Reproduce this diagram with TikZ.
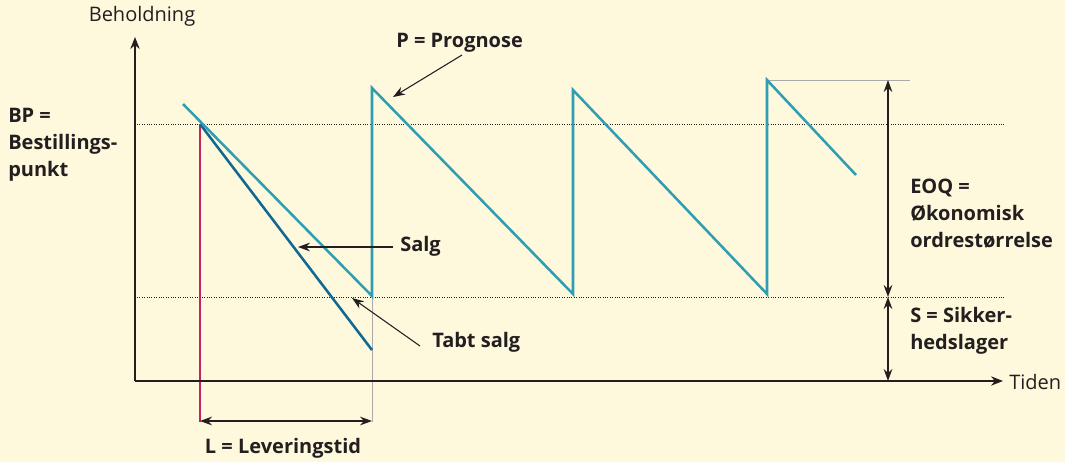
\documentclass[tikz,border=0pt]{standalone}
\usepackage{fontspec}
\setmainfont{Open Sans}
\usetikzlibrary{arrows.meta}
\definecolor{bg}{RGB}{254,248,220}
\definecolor{teal}{RGB}{48,158,178}
\definecolor{dblue}{RGB}{16,104,148}
\definecolor{mag}{RGB}{196,36,96}
\definecolor{ink}{RGB}{35,31,32}
\definecolor{thin}{RGB}{170,170,170}
\tikzset{
  lbl/.style={inner sep=0pt, font=\fontsize{15}{20.25}\selectfont\bfseries, text=ink, align=left},
  plainlbl/.style={inner sep=0pt, font=\fontsize{15}{20.25}\selectfont, text=ink},
  axis/.style={draw=ink, line width=0.9pt, -{Stealth[length=9pt,width=7pt]}},
  pointer/.style={draw=ink, line width=0.8pt, -{Stealth[length=9pt,width=6.5pt]}},
  dim/.style={draw=ink, line width=0.8pt, {Stealth[length=9pt,width=6.5pt]}-{Stealth[length=9pt,width=6.5pt]}},
  level/.style={draw=ink, line width=0.5pt, dash pattern=on 0.6pt off 1.2pt},
  saw/.style={draw=teal, line width=1.9pt, line join=miter},
  guide/.style={draw=thin, line width=0.6pt},
}
\begin{document}
\begin{tikzpicture}[x=0.75pt,y=-0.75pt]
\fill[bg] (0,0) rectangle (1065,462);
\useasboundingbox (0,0) rectangle (1065,462);
% coordinates
\coordinate (O) at (135,381);
\coordinate (ytop) at (135,37);
\coordinate (xend) at (1003,381);
\coordinate (bpL) at (137,124);
\coordinate (bpR) at (1004,124);
\coordinate (ssL) at (137,297);
\coordinate (ssR) at (1004,297);
\coordinate (s0) at (183,104);
\coordinate (b1) at (372,296);
\coordinate (t1) at (372,88);
\coordinate (b2) at (573,294);
\coordinate (t2) at (573,90);
\coordinate (b3) at (767,294);
\coordinate (t3) at (767,80);
\coordinate (e3) at (856,175);
\coordinate (bp) at (200,124);
\coordinate (lost) at (372,350);
\coordinate (magB) at (200,422);
\coordinate (gB) at (372,422);
\coordinate (topR) at (910,80);
\coordinate (eoqT) at (888,80);
\coordinate (eoqM) at (888,297);
\coordinate (eoqB) at (888,381);
\coordinate (Lleft) at (200,421);
\coordinate (Lright) at (372,421);
\coordinate (salgTip) at (298,247);
\coordinate (salgTail) at (393,247);
\coordinate (tabtTip) at (352,298);
\coordinate (tabtTail) at (420,346);
\coordinate (progTip) at (393,97);
\coordinate (progTail) at (462,55);
% levels
\draw[level] (bpL) -- (bpR);
\draw[level] (ssL) -- (ssR);
% guides
\draw[guide] (b1) -- (gB);
\draw[guide] (t3) -- (topR);
% lines
\draw[mag, line width=2.1pt] (bp) -- (magB);
\draw[dblue, line width=1.9pt] (bp) -- (lost);
\draw[saw] (s0) -- (b1) -- (t1) -- (b2) -- (t2) -- (b3) -- (t3) -- (e3);
% axes
\draw[axis] (O) -- (ytop);
\draw[axis] (O) -- (xend);
% dimension arrows
\draw[dim] (Lleft) -- (Lright);
\draw[dim] (eoqT) -- (eoqM);
\draw[dim] (eoqM) -- (eoqB);
% pointers
\draw[pointer] (salgTail) -- (salgTip);
\draw[pointer] (tabtTail) -- (tabtTip);
\draw[pointer] (progTail) -- (progTip);
% labels
\node[plainlbl] (beh) at (142,16) {Beholdning};
\node[plainlbl, anchor=west] (tid) at (1009,382) {Tiden};
\node[lbl, anchor=west] (bptxt) at (8,145) {BP =\\Bestillings-\\punkt};
\node[lbl, anchor=west] (eoqtxt) at (910,214) {EOQ =\\Økonomisk\\ordrestørrelse};
\node[lbl, anchor=west] (stxt) at (910,331) {S = Sikker-\\hedslager};
\node[lbl, anchor=west] (salg) at (400,246) {Salg};
\node[lbl, anchor=west] (tabt) at (432,342) {Tabt salg};
\node[lbl, anchor=west] (prog) at (396,43) {P = Prognose};
\node[lbl] (lev) at (283,448) {L = Leveringstid};
\end{tikzpicture}
\end{document}
